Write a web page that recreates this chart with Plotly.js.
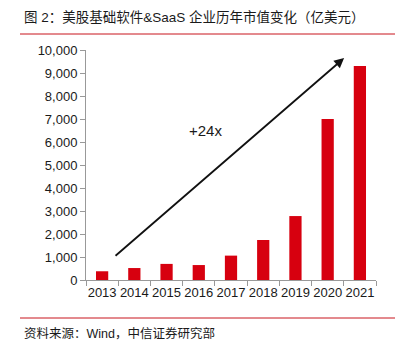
<!DOCTYPE html>
<html><head><meta charset="utf-8">
<script src="https://cdn.plot.ly/plotly-3.0.1.min.js"></script>
<style>html,body{margin:0;padding:0;background:#fff}#c{width:404px;height:351px}</style>
</head><body><div id="c"></div>
<script>
const years = ['2013','2014','2015','2016','2017','2018','2019','2020','2021'];
const marketCap = [380, 520, 700, 650, 1060, 1740, 2780, 7000, 9300];
const yTicks = [0,1000,2000,3000,4000,5000,6000,7000,8000,9000,10000];
const yTickText = ['0','1,000','2,000','3,000','4,000','5,000','6,000','7,000','8,000','9,000','10,000'];
const titleText = '图 2：美股基础软件&SaaS 企业历年市值变化（亿美元）';
const sourceText = '资料来源：Wind，中信证券研究部';
const growthLabel = '+24x';

const font = 'Liberation Sans, Arial, "Noto Sans CJK SC", sans-serif';
const data = [{
  type:'bar', x: years, y: marketCap,
  marker:{color:'#d7000f', line:{width:0}},
  hoverinfo:'none'
}];
const layout = {
  width:404, height:351,
  margin:{l:86, r:28, t:50, b:71},
  paper_bgcolor:'#fff', plot_bgcolor:'#fff',
  bargap:0.62,
  showlegend:false,
  font:{family:font, size:13, color:'#1a1a1a'},
  xaxis:{type:'category', showgrid:false, zeroline:false, showline:true, linecolor:'#999', linewidth:1,
    ticks:'outside', tickson:'boundaries', ticklen:5, tickcolor:'#999', tickangle:0,
    tickfont:{size:13, color:'#1a1a1a'}, fixedrange:true},
  yaxis:{range:[0,10000], tickvals:yTicks, ticktext:yTickText, showgrid:false, zeroline:false,
    showline:true, linecolor:'#999', linewidth:1, ticks:'outside', ticklen:5, tickcolor:'#999',
    tickfont:{size:13, color:'#1a1a1a'}, fixedrange:true},
  shapes:[
    {type:'line', xref:'paper', yref:'paper', x0:-66/290, x1:(395-86)/290, y0:(351-71-34)/230, y1:(351-71-34)/230, line:{color:'#c8151d', width:1}},
    {type:'line', xref:'paper', yref:'paper', x0:-66/290, x1:(395-86)/290, y0:(351-71-318)/230, y1:(351-71-318)/230, line:{color:'#c8151d', width:1}}
  ],
  annotations:[
    {xref:'paper', yref:'paper', x:-64/290, y:(351-71-17)/230, xanchor:'left', yanchor:'middle', showarrow:false,
      text:titleText, font:{size:13.5, color:'#1a1a1a', family:font}},
    {xref:'paper', yref:'paper', x:-64/290, y:(351-71-333)/230, xanchor:'left', yanchor:'middle', showarrow:false,
      text:sourceText, font:{size:12.5, color:'#1a1a1a', family:font}},
    {x:7.51, y:9650, ax:0.37, ay:1000, xref:'x', yref:'y', axref:'x', ayref:'y', text:'', showarrow:true,
      arrowhead:2, arrowsize:1.1, arrowwidth:1.8, arrowcolor:'#111'},
    {x:3.2, y:6520, xref:'x', yref:'y', text:growthLabel, showarrow:false, font:{size:15, color:'#1a1a1a', family:font}}
  ]
};
Plotly.newPlot('c', data, layout, {staticPlot:true, displayModeBar:false});
</script></body></html>
